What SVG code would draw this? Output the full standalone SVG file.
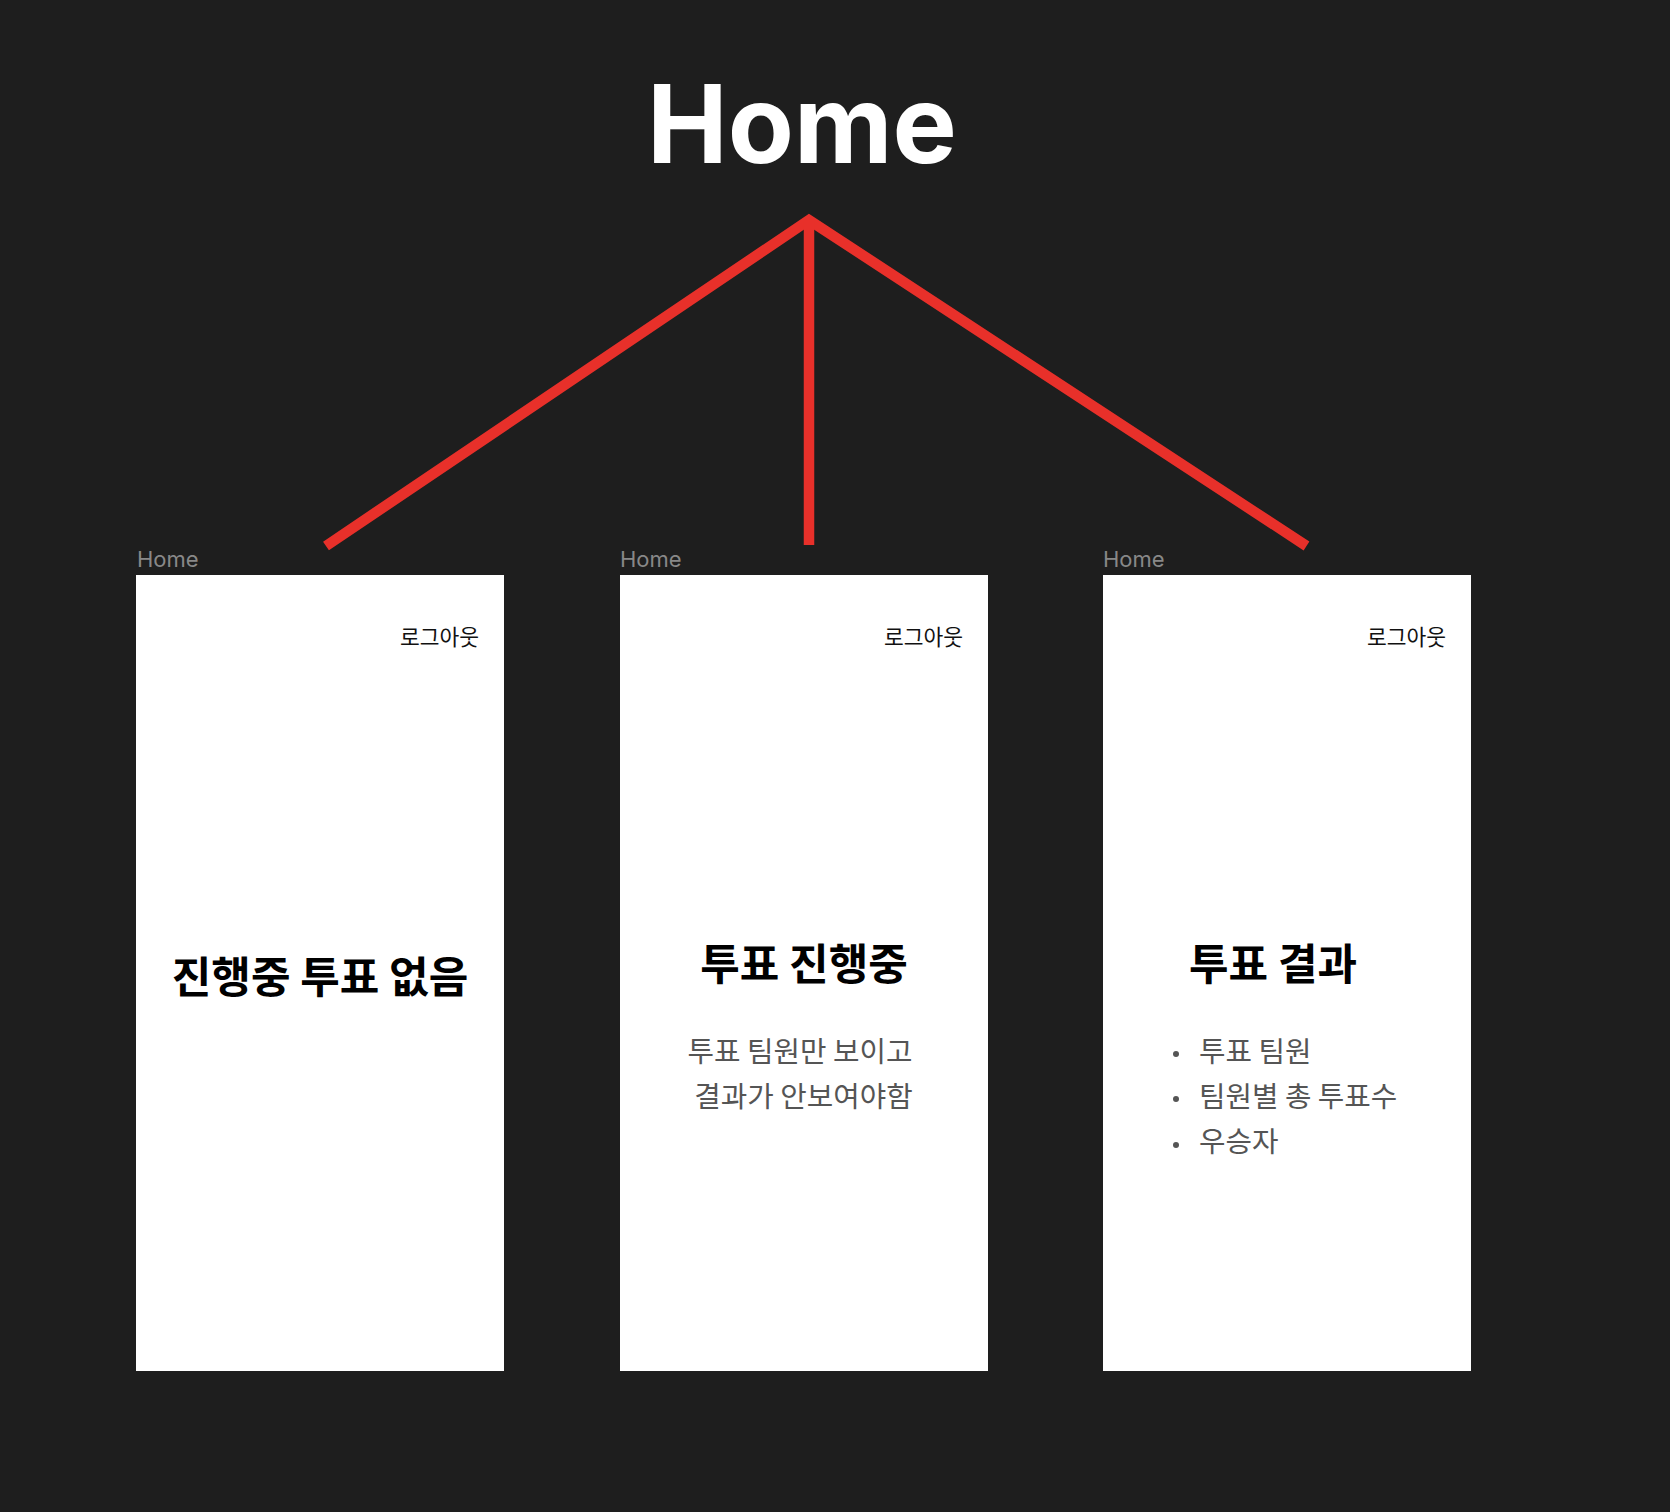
<svg xmlns="http://www.w3.org/2000/svg" width="1670" height="1512" viewBox="0 0 1670 1512">
  <style>
    .bg { fill: #1e1e1e; }
    .title { font-family: Inter, "Liberation Sans", sans-serif; font-weight: 700; font-size: 108px; fill: #ffffff; }
    .frame-label { font-family: Inter, "Liberation Sans", sans-serif; font-size: 22px; fill: #888888; }
    .screen { fill: #ffffff; }
    .logout { font-family: "Noto Sans CJK KR", sans-serif; font-size: 21.5px; fill: #111111; }
    .heading { font-family: "Noto Sans CJK KR", sans-serif; font-weight: 700; font-size: 43px; fill: #000000; }
    .body { font-family: "Noto Sans CJK KR", sans-serif; font-size: 28.8px; fill: #555555; }
    .bullet { fill: #555555; }
    .connector { fill: none; stroke: #e8302a; stroke-width: 10.5; stroke-linejoin: miter; stroke-linecap: butt; }
  </style>
  <rect class="bg" x="0" y="0" width="1670" height="1512"/>

  <g id="home-title">
    <text class="title" x="802" y="163" text-anchor="middle">Home</text>
  </g>

  <g id="connectors">
    <path class="connector" d="M326,546 L809,220 L1306.5,546"/>
    <path class="connector" d="M809,222 L809,545"/>
  </g>

  <g id="screen-no-vote">
    <text class="frame-label" x="137" y="567">Home</text>
    <rect class="screen" x="136" y="575" width="368" height="796"/>
    <text class="logout" x="479" y="645" text-anchor="end">로그아웃</text>
    <text class="heading" x="320" y="993" text-anchor="middle">진행중 투표 없음</text>
  </g>

  <g id="screen-voting">
    <text class="frame-label" x="620" y="567">Home</text>
    <rect class="screen" x="620" y="575" width="368" height="796"/>
    <text class="logout" x="963" y="645" text-anchor="end">로그아웃</text>
    <text class="heading" x="804" y="980" text-anchor="middle">투표 진행중</text>
    <text class="body" x="800" y="1062" text-anchor="middle">투표 팀원만 보이고</text>
    <text class="body" x="803.5" y="1107" text-anchor="middle">결과가 안보여야함</text>
  </g>

  <g id="screen-result">
    <text class="frame-label" x="1103" y="567">Home</text>
    <rect class="screen" x="1103" y="575" width="368" height="796"/>
    <text class="logout" x="1446" y="645" text-anchor="end">로그아웃</text>
    <text class="heading" x="1189" y="980">투표 결과</text>
    <circle class="bullet" cx="1176" cy="1054" r="3"/>
    <circle class="bullet" cx="1176" cy="1099" r="3"/>
    <circle class="bullet" cx="1176" cy="1145" r="3"/>
    <text class="body" x="1199" y="1062">투표 팀원</text>
    <text class="body" x="1199" y="1107">팀원별 총 투표수</text>
    <text class="body" x="1199" y="1152">우승자</text>
  </g>
</svg>
